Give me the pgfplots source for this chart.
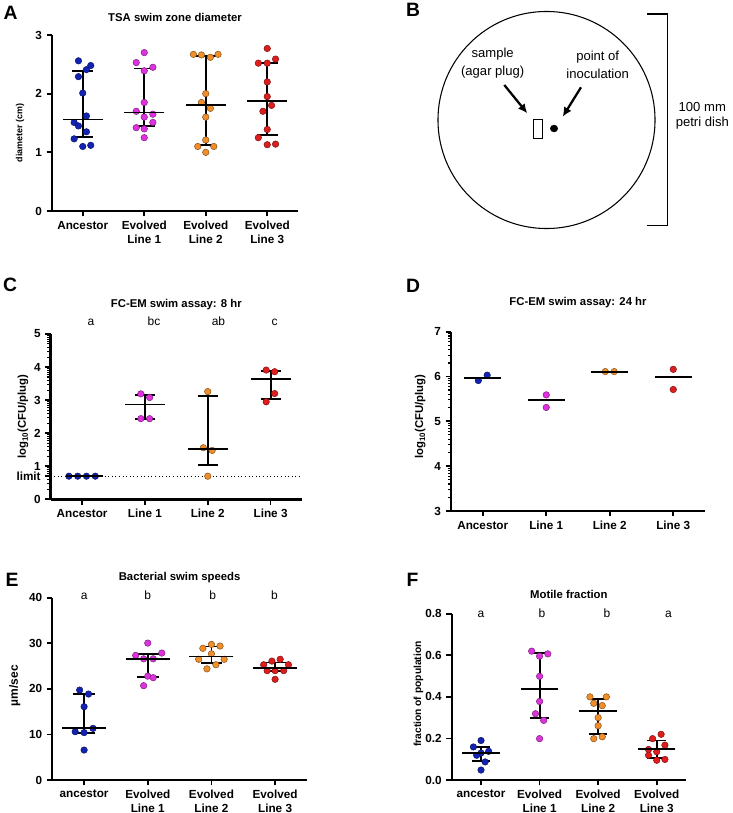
\documentclass[border=0pt]{standalone}
\usepackage{fontspec}
\setmainfont{Liberation Sans}
\usepackage{pgfplots}
\pgfplotsset{compat=1.18}
\usetikzlibrary{arrows.meta}

\definecolor{cAnc}{RGB}{18,34,178}
\definecolor{cL1}{RGB}{222,50,222}
\definecolor{cL2}{RGB}{240,142,42}
\definecolor{cL3}{RGB}{222,30,30}

\pgfplotsset{
  gp/.style={
    scale only axis,
    axis lines=left,
    axis line style={line width=1.8pt,-},
    tick align=outside,
    major tick length=4pt,
    minor tick length=2.4pt,
    tick style={line width=1.3pt,black},
    minor tick style={line width=0.8pt,black},
    xmin=-0.5, xmax=3.5,
    xtick={0,1,2,3},
    ticklabel style={font=\bfseries\fontsize{8.8}{10.2}\selectfont},
    xticklabel style={align=center},
    /pgf/number format/assume math mode=true,
    clip=false,
    every axis title/.style={anchor=center,font=\bfseries\fontsize{8.5}{10}\selectfont},
    every axis y label/.style={rotate=90,anchor=center},
  },
  pts/.style={only marks, mark=*, mark size=2.45pt,
    mark options={fill=#1, draw=#1!55!black, line width=0.35pt}},
  summ/.style 2 args={only marks, line width=1.4pt, black, mark=-, mark size=#1,
    mark options={line width=1.4pt, draw=black, solid},
    error bars/.cd, y dir=both, y explicit, error mark=|,
    error mark options={mark size=#2, line width=1.4pt, draw=black},
    error bar style={line width=1.4pt, black}},
  med/.style={only marks, line width=1.4pt, black, mark=-, mark size=#1,
    mark options={line width=1.4pt, draw=black}},
}

\begin{document}
\begin{tikzpicture}
\useasboundingbox (0,0) rectangle (549pt,-609.75pt);

% ---------------- Panel A ----------------
\begin{axis}[gp, at={(39pt,-158.25pt)}, anchor=south west,
  width=184.5pt, height=132pt, ymin=0, ymax=3, ytick={0,1,2,3},
  title={TSA swim zone diameter}, title style={at={(0.5,1.097)}},
  ylabel={diameter (cm)},
  ylabel style={at={(axis description cs:-0.130,0.443)}, font=\bfseries\fontsize{6.7}{8}\selectfont},
  xticklabels={Ancestor,{Evolved\\Line 1},{Evolved\\Line 2},{Evolved\\Line 3}}]
\addplot[pts=cAnc] table {
x y
-0.07 2.56
0.13 2.48
0.06 2.41
-0.07 2.29
0.00 2.01
0.06 1.62
-0.14 1.51
-0.07 1.45
0.06 1.35
-0.14 1.23
0.00 1.10
0.13 1.12
};
\addplot[pts=cL1] table {
x y
1.00 2.70
0.87 2.53
1.14 2.45
1.00 2.39
1.00 1.85
0.87 1.70
1.14 1.65
1.00 1.60
1.14 1.51
0.87 1.42
1.00 1.40
1.00 1.25
};
\addplot[pts=cL2] table {
x y
1.80 2.67
1.93 2.66
2.075 2.62
2.20 2.67
2.00 2.00
1.93 1.85
2.075 1.75
2.00 1.60
2.00 1.21
1.87 1.10
2.13 1.10
2.00 1.00
};
\addplot[pts=cL3] table {
x y
3.00 2.77
2.855 2.52
3.00 2.52
3.135 2.59
3.00 2.20
3.00 1.95
2.93 1.70
3.07 1.80
3.00 1.39
2.855 1.25
3.00 1.13
3.135 1.14
};
\addplot[summ={15pt}{7.8pt}] table[x=x, y=m,
  y error plus expr=\thisrow{h}-\thisrow{m},
  y error minus expr=\thisrow{m}-\thisrow{l}] {
x m l h
0 1.56 1.26 2.38
1 1.68 1.45 2.43
2 1.80 1.13 2.64
3 1.88 1.29 2.52
};
\end{axis}

% ---------------- Panel C ----------------
\begin{axis}[gp, at={(38pt,-374.5pt)}, anchor=south west,
  width=188.5pt, height=124pt, ymin=0, ymax=5,
  ytick={0,0.7,1,2,3,4,5}, yticklabels={0,limit,1,2,3,4,5},
  minor ytick={0.301,0.477,0.602,0.778,0.845,0.903,0.954,
    1.301,1.477,1.602,1.699,1.778,1.845,1.903,1.954,
    2.301,2.477,2.602,2.699,2.778,2.845,2.903,2.954,
    3.301,3.477,3.602,3.699,3.778,3.845,3.903,3.954,
    4.301,4.477,4.602,4.699,4.778,4.845,4.903,4.954},
  title={FC-EM swim assay: 8 hr}, title style={at={(0.5,1.181)}},
  ylabel={log\textsubscript{10}(CFU/plug)},
  ylabel style={at={(axis description cs:-0.110,0.5)}, font=\bfseries\fontsize{8.5}{10}\selectfont},
  xticklabels={Ancestor,Line 1,Line 2,Line 3}]
\addplot[black, line width=0.7pt, dotted] coordinates {(-0.5,0.7) (3.5,0.7)};
\addplot[pts=cAnc] table {
x y
-0.21 0.7
-0.07 0.7
0.07 0.7
0.21 0.7
};
\addplot[pts=cL1] table {
x y
0.935 3.19
1.075 3.08
0.935 2.44
1.075 2.44
};
\addplot[pts=cL2] table {
x y
2.00 3.26
1.93 1.56
2.07 1.48
2.00 0.70
};
\addplot[pts=cL3] table {
x y
2.93 3.91
3.065 3.86
3.065 3.20
2.93 2.95
};
\addplot[med=14pt] table {
x y
0.04 0.70
};
\addplot[summ={15pt}{7.5pt}] table[x=x, y=m,
  y error plus expr=\thisrow{h}-\thisrow{m},
  y error minus expr=\thisrow{m}-\thisrow{l}] {
x m l h
1 2.87 2.44 3.16
2 1.51 1.05 3.13
3 3.64 3.03 3.89
};
\node[anchor=base, font=\fontsize{9}{10}\selectfont] at (axis cs:0.14,5.27) {a};
\node[anchor=base, font=\fontsize{9}{10}\selectfont] at (axis cs:1.145,5.27) {bc};
\node[anchor=base, font=\fontsize{9}{10}\selectfont] at (axis cs:2.17,5.27) {ab};
\node[anchor=base, font=\fontsize{9}{10}\selectfont] at (axis cs:3.065,5.27) {c};
\end{axis}

% ---------------- Panel D ----------------
\begin{axis}[gp, at={(338.25pt,-383.25pt)}, anchor=south west,
  width=190.5pt, height=134.5pt, ymin=3, ymax=7, ytick={3,4,5,6,7},
  minor ytick={3.301,3.477,3.602,3.699,3.778,3.845,3.903,3.954,
    4.301,4.477,4.602,4.699,4.778,4.845,4.903,4.954,
    5.301,5.477,5.602,5.699,5.778,5.845,5.903,5.954,
    6.301,6.477,6.602,6.699,6.778,6.845,6.903,6.954},
  title={FC-EM swim assay: 24 hr}, title style={at={(0.5,1.160)}},
  ylabel={log\textsubscript{10}(CFU/plug)},
  ylabel style={at={(axis description cs:-0.121,0.526)}, font=\bfseries\fontsize{8.5}{10}\selectfont},
  xticklabels={Ancestor,Line 1,Line 2,Line 3}]
\addplot[pts=cAnc] table {
x y
-0.07 5.91
0.07 6.03
};
\addplot[pts=cL1] table {
x y
1.00 5.59
1.00 5.31
};
\addplot[pts=cL2] table {
x y
1.93 6.11
2.07 6.11
};
\addplot[pts=cL3] table {
x y
3.00 6.16
3.00 5.71
};
\addplot[med=14pt] table {
x y
0 5.97
1 5.47
2 6.10
3 5.98
};
\end{axis}

% ---------------- Panel E ----------------
\begin{axis}[gp, at={(39.2pt,-585pt)}, anchor=south west,
  width=191pt, height=136.7pt, ymin=0, ymax=40, ytick={0,10,20,30,40},
  title={Bacterial swim speeds}, title style={at={(0.5,1.108)}},
  ylabel={µm/sec},
  ylabel style={at={(axis description cs:-0.147,0.517)}, font=\bfseries\fontsize{9}{10}\selectfont},
  xticklabels={ancestor,{Evolved\\Line 1},{Evolved\\Line 2},{Evolved\\Line 3}}]
\addplot[pts=cAnc] table {
x y
-0.07 19.74
0.07 18.87
0.00 16.09
-0.14 10.60
0.00 10.40
0.14 11.33
0.00 6.58
};
\addplot[pts=cL1] table {
x y
1.00 30.05
0.81 27.35
1.22 27.86
0.935 26.60
1.085 26.60
1.00 22.80
1.085 22.45
0.935 20.70
};
\addplot[pts=cL2] table {
x y
2.00 29.76
1.865 28.90
2.135 29.40
2.00 27.70
1.80 26.50
2.20 26.50
2.07 25.30
1.93 24.40
};
\addplot[pts=cL3] table {
x y
2.82 25.3
2.95 26.1
3.08 26.5
3.21 25.3
2.875 24.0
3.00 24.0
3.135 24.0
3.00 22.1
};
\addplot[summ={16.5pt}{8.2pt}] table[x=x, y=m,
  y error plus expr=\thisrow{h}-\thisrow{m},
  y error minus expr=\thisrow{m}-\thisrow{l}] {
x m l h
0 11.4 10.4 18.9
1 26.5 22.6 27.7
2 27.1 25.6 29.3
3 24.65 24.0 25.8
};
\node[anchor=base, font=\fontsize{9}{10}\selectfont] at (axis cs:0,39.6) {a};
\node[anchor=base, font=\fontsize{9}{10}\selectfont] at (axis cs:1,39.6) {b};
\node[anchor=base, font=\fontsize{9}{10}\selectfont] at (axis cs:2.02,39.6) {b};
\node[anchor=base, font=\fontsize{9}{10}\selectfont] at (axis cs:2.99,39.6) {b};
\end{axis}

% ---------------- Panel F ----------------
\begin{axis}[gp, at={(338.8pt,-585pt)}, anchor=south west,
  width=175.7pt, height=124.7pt, ymin=0, ymax=0.8,
  ytick={0,0.2,0.4,0.6,0.8}, yticklabels={0.0,0.2,0.4,0.6,0.8},
  title={Motile fraction}, title style={at={(0.5,1.119)}},
  ylabel={fraction of population},
  ylabel style={at={(axis description cs:-0.142,0.517)}, font=\bfseries\fontsize{7.7}{9}\selectfont},
  xticklabels={ancestor,{Evolved\\Line 1},{Evolved\\Line 2},{Evolved\\Line 3}}]
\addplot[pts=cAnc] table {
x y
0.00 0.190
-0.13 0.159
0.13 0.138
0.00 0.130
-0.075 0.119
0.07 0.087
0.00 0.048
};
\addplot[pts=cL1] table {
x y
0.865 0.620
1.00 0.596
1.14 0.607
1.00 0.499
1.00 0.378
0.93 0.319
1.07 0.287
1.00 0.199
};
\addplot[pts=cL2] table {
x y
1.86 0.400
2.14 0.400
1.925 0.369
2.07 0.358
2.00 0.300
2.00 0.261
1.925 0.199
2.07 0.208
};
\addplot[pts=cL3] table {
x y
2.93 0.199
3.075 0.220
2.86 0.147
3.00 0.136
3.14 0.168
2.86 0.119
3.00 0.095
3.14 0.099
};
\addplot[summ={14pt}{7pt}] table[x=x, y=m,
  y error plus expr=\thisrow{h}-\thisrow{m},
  y error minus expr=\thisrow{m}-\thisrow{l}] {
x m l h
0 0.13 0.09 0.16
1 0.44 0.30 0.61
2 0.33 0.22 0.39
3 0.15 0.105 0.19
};
\node[anchor=base, font=\fontsize{9}{10}\selectfont] at (axis cs:0,0.78) {a};
\node[anchor=base, font=\fontsize{9}{10}\selectfont] at (axis cs:1.04,0.78) {b};
\node[anchor=base, font=\fontsize{9}{10}\selectfont] at (axis cs:2.15,0.78) {b};
\node[anchor=base, font=\fontsize{9}{10}\selectfont] at (axis cs:3.2,0.78) {a};
\end{axis}

% ---------------- Panel B (diagram) and panel letters ----------------
\begin{scope}[x=0.75pt, y=-0.75pt]
\draw[line width=0.8pt] (546.5,120) circle [radius=81.4pt];
\draw[line width=0.6pt] (533,119) rectangle (542.3,138.3);
\fill (554,128.5) ellipse [x radius=3pt, y radius=2.8pt];
\draw[line width=1.7pt, -{Latex[length=7pt,width=6.5pt]}] (504.3,85) -- (527.3,113.3);
\draw[line width=1.7pt, -{Latex[length=7pt,width=6.5pt]}] (581,87.3) -- (562.7,116.7);
\draw[line width=1.1pt] (646.7,14) -- (667.7,14) -- (667.7,225.7) -- (646.7,225.7);
\begin{scope}[every node/.style={font=\fontsize{9.8}{11}\selectfont, inner sep=0pt}]
\node at (492.7,54.3) {sample};
\node at (492.7,71.7) {(agar plug)};
\node at (597.7,57.3) {point of};
\node at (597.7,74) {inoculation};
\node at (702.3,106.7) {100 mm};
\node at (702.3,122.7) {petri dish};
\end{scope}
\begin{scope}[every node/.style={font=\bfseries\fontsize{14.5}{15}\selectfont, inner sep=0pt}]
\node at (10.5,13) {A};
\node at (413,10) {B};
\node at (10,284.5) {C};
\node at (413,285.5) {D};
\node at (12,580) {E};
\node at (412.5,580) {F};
\end{scope}
\end{scope}
\end{tikzpicture}
\end{document}
